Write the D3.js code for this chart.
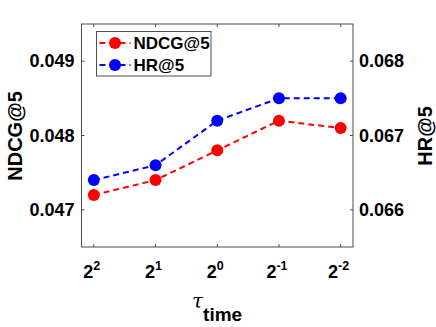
<!DOCTYPE html>
<html>
<head>
<meta charset="utf-8">
<script src="https://cdn.jsdelivr.net/npm/d3@7"></script>
<style>
  body { margin: 0; background: #fff; }
  text { font-family: "Liberation Sans", Arial, sans-serif; font-weight: bold; fill: #000; }
</style>
</head>
<body>
<div id="chart"></div>
<script>
// data
const exponents = ["2", "1", "0", "-1", "-2"];
const ndcg = [0.0472, 0.0474, 0.0478, 0.0482, 0.0481];
const hr = [0.0664, 0.0666, 0.0672, 0.0675, 0.0675];
const leftTicks = [0.047, 0.048, 0.049];
const rightTicks = [0.066, 0.067, 0.068];

const width = 436, height = 327;
const margin = {top: 24, right: 83, bottom: 80, left: 81.5};
const innerW = width - margin.left - margin.right;
const innerH = height - margin.top - margin.bottom;

const svg = d3.select("#chart").append("svg")
    .attr("width", width)
    .attr("height", height);

const g = svg.append("g").attr("transform", "translate(" + margin.left + "," + margin.top + ")");

const xScale = d3.scaleLinear().domain([-0.2, 4.2]).range([0, innerW]);
const yLeft = d3.scaleLinear().domain([0.0465, 0.0495]).range([innerH, 0]);
const yRight = d3.scaleLinear().domain([0.0655, 0.0685]).range([innerH, 0]);

const axisColor = "#4d4d4d";
const tickLen = 3;

// box
g.append("rect")
    .attr("width", innerW)
    .attr("height", innerH)
    .attr("fill", "none")
    .attr("stroke", axisColor)
    .attr("stroke-width", 1);

// x ticks, inside, top and bottom
const xi = d3.range(exponents.length);
g.selectAll(".xt-b").data(xi).enter().append("line")
    .attr("x1", d => xScale(d)).attr("x2", d => xScale(d))
    .attr("y1", innerH).attr("y2", innerH - tickLen)
    .attr("stroke", axisColor);
g.selectAll(".xt-t").data(xi).enter().append("line")
    .attr("x1", d => xScale(d)).attr("x2", d => xScale(d))
    .attr("y1", 0).attr("y2", tickLen)
    .attr("stroke", axisColor);

// x tick labels as 2^k
const xl = g.selectAll(".xlab").data(exponents).enter().append("text")
    .attr("x", (d, i) => xScale(i) - 2)
    .attr("y", innerH + 31)
    .attr("text-anchor", "middle")
    .style("font-size", "18px");
xl.append("tspan").text("2");
xl.append("tspan").attr("dy", -8).style("font-size", "12.5px").text(d => d);

// left axis
g.selectAll(".yl").data(leftTicks).enter().append("line")
    .attr("x1", 0).attr("x2", tickLen)
    .attr("y1", d => yLeft(d)).attr("y2", d => yLeft(d))
    .attr("stroke", axisColor);
g.selectAll(".yll").data(leftTicks).enter().append("text")
    .attr("x", -7)
    .attr("y", d => yLeft(d) + 6)
    .attr("text-anchor", "end")
    .style("font-size", "18px")
    .text(d => d3.format(".3f")(d));

// right axis
g.selectAll(".yr").data(rightTicks).enter().append("line")
    .attr("x1", innerW).attr("x2", innerW - tickLen)
    .attr("y1", d => yRight(d)).attr("y2", d => yRight(d))
    .attr("stroke", axisColor);
g.selectAll(".yrl").data(rightTicks).enter().append("text")
    .attr("x", innerW + 6)
    .attr("y", d => yRight(d) + 6)
    .attr("text-anchor", "start")
    .style("font-size", "18px")
    .text(d => d3.format(".3f")(d));

// axis labels
svg.append("text")
    .attr("transform", "translate(22,136) rotate(-90)")
    .attr("text-anchor", "middle")
    .style("font-size", "20px")
    .text("NDCG@5");
svg.append("text")
    .attr("transform", "translate(432,136) rotate(-90)")
    .attr("text-anchor", "middle")
    .style("font-size", "20px")
    .text("HR@5");

const xLabel = svg.append("text")
    .attr("x", 192)
    .attr("y", 308);
xLabel.append("tspan")
    .style("font-style", "italic")
    .style("font-weight", "normal")
    .style("font-family", "'DejaVu Serif', serif")
    .style("font-size", "20px")
    .text("τ");
xLabel.append("tspan")
    .attr("dy", 13)
    .style("font-size", "19px")
    .text("time");

// series
const series = [
    {name: "NDCG@5", values: ndcg, y: yLeft, color: "#ff0000"},
    {name: "HR@5", values: hr, y: yRight, color: "#0000ff"}
];

series.forEach(function(s) {
    const line = d3.line()
        .x((d, i) => xScale(i))
        .y(d => s.y(d));
    g.append("path")
        .datum(s.values)
        .attr("d", line)
        .attr("fill", "none")
        .attr("stroke", s.color)
        .attr("stroke-width", 2)
        .attr("stroke-dasharray", "6,4");
    g.selectAll(null).data(s.values).enter().append("circle")
        .attr("cx", (d, i) => xScale(i))
        .attr("cy", d => s.y(d))
        .attr("r", 6)
        .attr("fill", s.color);
});

// legend
const legend = svg.append("g").attr("transform", "translate(96.5,31.5)");
legend.append("rect")
    .attr("width", 114.5)
    .attr("height", 44.5)
    .attr("fill", "#fff")
    .attr("stroke", axisColor);
series.forEach(function(s, i) {
    const ly = 11.5 + i * 22;
    legend.append("line")
        .attr("x1", 3).attr("x2", 34)
        .attr("y1", ly).attr("y2", ly)
        .attr("stroke", s.color)
        .attr("stroke-width", 2)
        .attr("stroke-dasharray", "6,4");
    legend.append("circle")
        .attr("cx", 18.5).attr("cy", ly)
        .attr("r", 6)
        .attr("fill", s.color);
    legend.append("text")
        .attr("x", 37)
        .attr("y", ly + 6)
        .style("font-size", "17px")
        .text(s.name);
});
</script>
</body>
</html>
